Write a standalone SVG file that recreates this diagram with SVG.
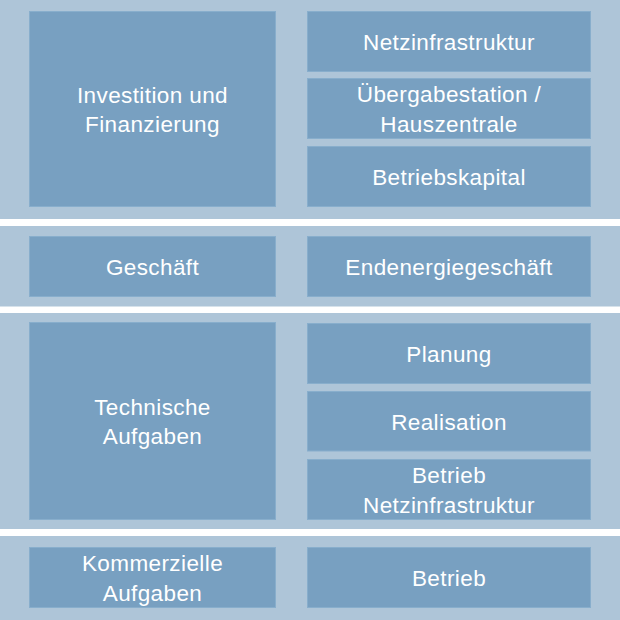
<svg xmlns="http://www.w3.org/2000/svg" width="620" height="620" viewBox="0 0 620 620">
<style>
.band{fill:#aec5d8}
.box{fill:#78a0c1;stroke:#88aecc;stroke-width:1}
.t{font-family:"Liberation Sans",Arial,sans-serif;font-size:22.5px;fill:#ffffff;text-anchor:middle;letter-spacing:0.4px}
</style>
<rect x="0" y="0" width="620" height="620" fill="#ffffff"/>
<g id="bands">
<rect class="band" x="0" y="0" width="620" height="219"/>
<rect class="band" x="0" y="226" width="620" height="80.5"/>
<rect class="band" x="0" y="313" width="620" height="216"/>
<rect class="band" x="0" y="536" width="620" height="84"/>
</g>
<g id="investition"><rect class="box" x="29.5" y="11.5" width="246" height="195"/><text class="t" x="152.5" y="102.8">Investition und</text><text class="t" x="152.5" y="132.3">Finanzierung</text></g>
<g id="netzinfrastruktur"><rect class="box" x="307.5" y="11.5" width="283" height="60"/><text class="t" x="449" y="49.5">Netzinfrastruktur</text></g>
<g id="uebergabestation"><rect class="box" x="307.5" y="78.5" width="283" height="60"/><text class="t" x="449" y="102">Übergabestation /</text><text class="t" x="449" y="131.5">Hauszentrale</text></g>
<g id="betriebskapital"><rect class="box" x="307.5" y="146.5" width="283" height="60"/><text class="t" x="449" y="184.7">Betriebskapital</text></g>
<g id="geschaeft"><rect class="box" x="29.5" y="236.5" width="246" height="60"/><text class="t" x="152.5" y="274.7">Geschäft</text></g>
<g id="endenergiegeschaeft"><rect class="box" x="307.5" y="236.5" width="283" height="60"/><text class="t" x="449" y="274.7">Endenergiegeschäft</text></g>
<g id="technische"><rect class="box" x="29.5" y="322.5" width="246" height="197"/><text class="t" x="152.5" y="414.6">Technische</text><text class="t" x="152.5" y="444.1">Aufgaben</text></g>
<g id="planung"><rect class="box" x="307.5" y="323.5" width="283" height="60"/><text class="t" x="449" y="361.7">Planung</text></g>
<g id="realisation"><rect class="box" x="307.5" y="391.5" width="283" height="59.5"/><text class="t" x="449" y="429.5">Realisation</text></g>
<g id="betrieb-netz"><rect class="box" x="307.5" y="459.5" width="283" height="60"/><text class="t" x="449" y="483.1">Betrieb</text><text class="t" x="449" y="512.6">Netzinfrastruktur</text></g>
<g id="kommerzielle"><rect class="box" x="29.5" y="547.5" width="246" height="60"/><text class="t" x="152.5" y="571.1">Kommerzielle</text><text class="t" x="152.5" y="600.6">Aufgaben</text></g>
<g id="betrieb"><rect class="box" x="307.5" y="547.5" width="283" height="60"/><text class="t" x="449" y="585.7">Betrieb</text></g>
<g id="connectors"></g>
</svg>
